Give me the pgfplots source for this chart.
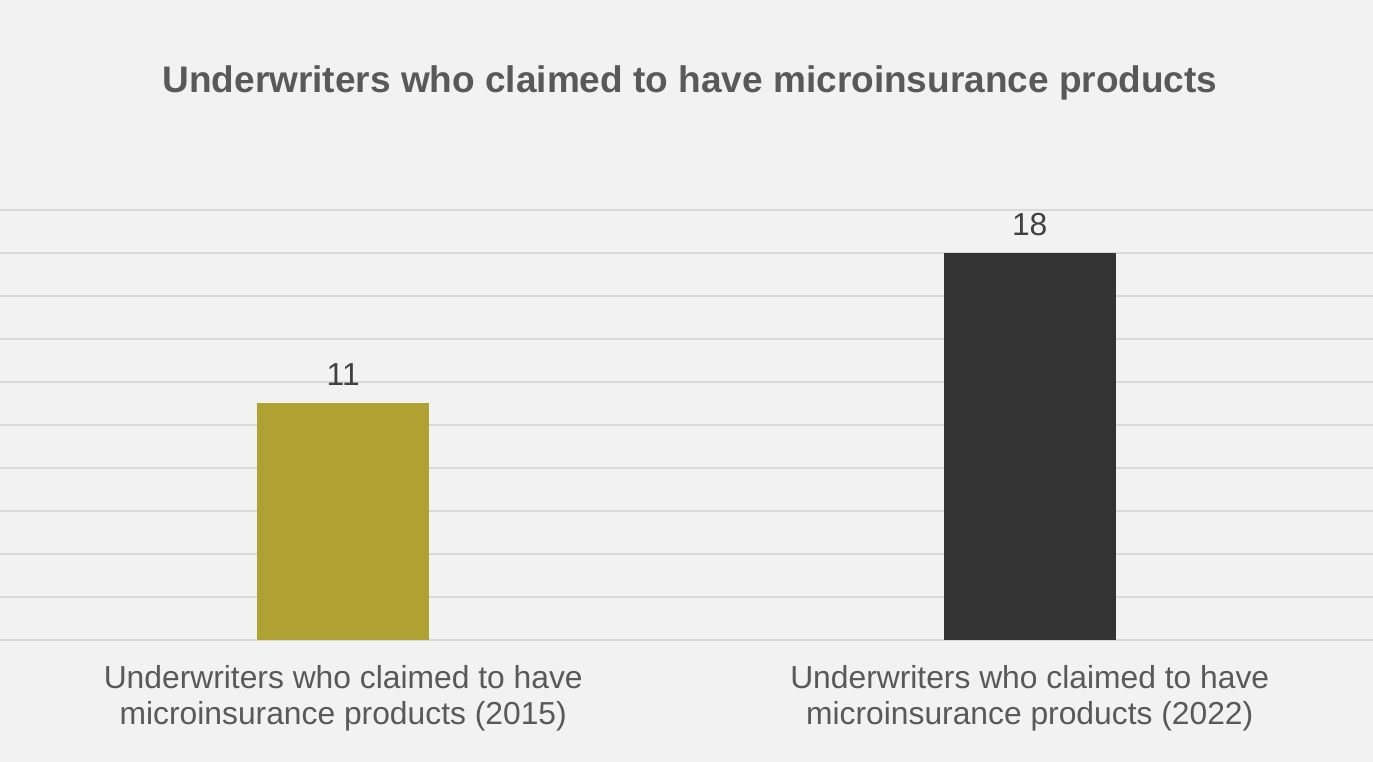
\documentclass[border=0pt]{standalone}
\usepackage{pgfplots}
\pgfplotsset{compat=1.18}
\usepackage{fontspec}
\setmainfont{Liberation Sans}
\definecolor{bgc}{HTML}{F2F2F2}
\definecolor{gridc}{HTML}{D9D9D9}
\definecolor{titlec}{HTML}{595959}
\definecolor{labc}{HTML}{595959}
\definecolor{datc}{HTML}{404040}
\definecolor{olive}{HTML}{AFA233}
\definecolor{darkbar}{HTML}{333333}
\begin{document}
\begin{tikzpicture}[x=1pt,y=1pt]
\fill[bgc] (0,0) rectangle (1373,762);
\useasboundingbox (0,0) rectangle (1373,762);
\node[anchor=base, text=titlec, font=\fontsize{37}{44}\selectfont\bfseries] at (690,669) {Underwriters who claimed to have microinsurance products};
\begin{axis}[
  at={(0pt,122pt)}, anchor=south west,
  scale only axis, width=1373pt, height=430pt,
  xmin=-0.5, xmax=1.5, ymin=0, ymax=20,
  ybar, bar width=172pt, bar shift=0pt,
  axis line style={draw=none},
  major tick length=0pt,
  ytick={0,2,...,20}, yticklabels={},
  ymajorgrids, grid style={gridc, line width=1.6pt},
  xtick={0,1},
  xticklabels={{Underwriters who claimed to have\\microinsurance products (2015)},{Underwriters who claimed to have\\microinsurance products (2022)}},
  xticklabel style={align=center, text=labc, font=\fontsize{31.8}{36}\selectfont, yshift=-22pt},
  /pgf/number format/assume math mode=true,
  nodes near coords,
  nodes near coords style={text=datc, font=\fontsize{31.8}{36}\selectfont, yshift=14pt},
  clip=false,
]
\addplot[fill=olive, draw=none] coordinates {(0,11)};
\addplot[fill=darkbar, draw=none] coordinates {(1,18)};
\end{axis}
\end{tikzpicture}
\end{document}
